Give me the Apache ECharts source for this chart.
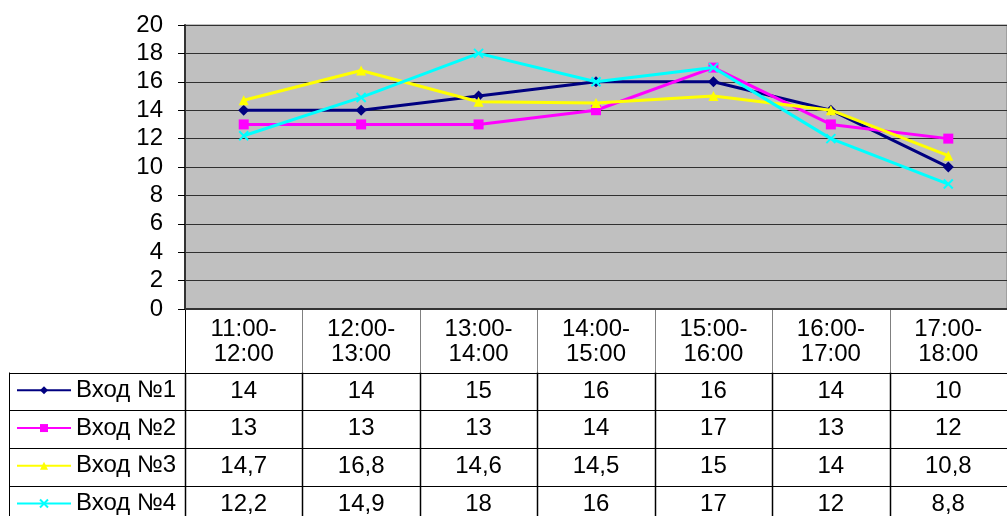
<!DOCTYPE html>
<html>
<head>
<meta charset="utf-8">
<script src="https://cdn.jsdelivr.net/npm/echarts@6/dist/echarts.min.js"></script>
<style>
html, body { margin: 0; padding: 0; background: #fff; }
#chart { width: 1007px; height: 516px; }
</style>
</head>
<body>
<div id="chart"></div>
<script>
const categories = ['11:00-\n12:00', '12:00-\n13:00', '13:00-\n14:00', '14:00-\n15:00', '15:00-\n16:00', '16:00-\n17:00', '17:00-\n18:00'];
const seriesNames = ['Вход №1', 'Вход №2', 'Вход №3', 'Вход №4'];
const entry1 = [14, 14, 15, 16, 16, 14, 10];
const entry2 = [13, 13, 13, 14, 17, 13, 12];
const entry3 = [14.7, 16.8, 14.6, 14.5, 15, 14, 10.8];
const entry4 = [12.2, 14.9, 18, 16, 17, 12, 8.8];
const yTicks = [0, 20, 2]; // min, max, step

const allData = [entry1, entry2, entry3, entry4];
const colors = ['#000080', '#FF00FF', '#FFFF00', '#00FFFF'];
const symbols = ['diamond', 'rect', 'triangle', 'path://M0,0L10,10M10,0L0,10'];

// layout of the plot and the data table under it
const W = 1007, H = 516;
const plotL = 185, plotT = 25, plotB = 310;
const rowTop = 372.5, rowH = 37.7, tableL = 9;
const colW = (W - plotL) / categories.length;
const font = 'Liberation Sans, Arial, sans-serif';
const fs = 24;

const fmtNum = v => String(v).replace('.', ',');

const chart = echarts.init(document.getElementById('chart'));

let graphics = [];
// horizontal table lines
for (let i = 0; i < seriesNames.length; i++) {
    const y = Math.round(rowTop + i * rowH) + 0.5;
    graphics.push({ type: 'line', shape: { x1: tableL, y1: y, x2: W, y2: y }, style: { stroke: '#000', lineWidth: 1 }, silent: true });
}
// left border of legend column
graphics.push({ type: 'line', shape: { x1: tableL + 0.5, y1: rowTop, x2: tableL + 0.5, y2: H }, style: { stroke: '#000', lineWidth: 1 } });
// column separators
for (let k = 0; k < categories.length; k++) {
    const x = Math.round(plotL + k * colW) + 0.5;
    graphics.push({ type: 'line', shape: { x1: x, y1: plotB, x2: x, y2: rowTop }, style: { stroke: k === 0 ? '#000' : '#808080', lineWidth: 1 } });
    graphics.push({ type: 'line', shape: { x1: x, y1: rowTop, x2: x, y2: H }, style: { stroke: '#000', lineWidth: 1.5 } });
}

// one legend per table row so each key sits in its own cell
const legends = seriesNames.map((name, i) => ({
    orient: 'horizontal',
    left: 16,
    top: rowTop + rowH * i + rowH / 2 - 13,
    itemWidth: 54,
    itemHeight: 10,
    padding: 0,
    textStyle: { fontSize: fs, color: '#000', fontFamily: font },
    data: [name]
}));

const option = {
    backgroundColor: '#fff',
    animation: false,
    textStyle: { fontFamily: font },
    grid: {
        left: plotL, right: 0, top: plotT, bottom: H - plotB,
        show: true, backgroundColor: '#C0C0C0', borderColor: '#808080', borderWidth: 1
    },
    legend: legends,
    xAxis: {
        type: 'category',
        data: categories,
        boundaryGap: true,
        axisLine: { lineStyle: { color: '#333', width: 2 } },
        axisTick: { show: false },
        axisLabel: {
            interval: 0,
            margin: 8,
            formatter: function (value, idx) {
                const head = value.split('\n').map(s => '{h|' + s + '}').join('\n');
                const vals = allData.map(d => '{v|' + fmtNum(d[idx]) + '}').join('\n');
                return head + '\n{s| }\n' + vals;
            },
            rich: {
                h: { fontSize: fs, lineHeight: 25, color: '#000', fontFamily: font, align: 'center' },
                s: { fontSize: 4, lineHeight: 5 },
                v: { fontSize: fs, lineHeight: rowH, color: '#000', fontFamily: font, align: 'center' }
            }
        }
    },
    yAxis: {
        type: 'value',
        min: yTicks[0],
        max: yTicks[1],
        interval: yTicks[2],
        axisLine: { show: true, lineStyle: { color: '#333', width: 2 } },
        axisTick: { show: true, length: 7, lineStyle: { color: '#000' } },
        axisLabel: { margin: 22, fontSize: fs, color: '#000', fontFamily: font },
        splitLine: { show: true, lineStyle: { color: '#303030', width: 1 } }
    },
    series: seriesNames.map((name, i) => ({
        name: name,
        type: 'line',
        data: allData[i],
        symbol: symbols[i],
        symbolSize: i === 3 ? 9 : (i === 0 ? 11 : 10),
        showAllSymbol: true,
        lineStyle: { color: colors[i], width: 3 },
        itemStyle: i === 3
            ? { color: colors[i], borderColor: colors[i], borderWidth: 2 }
            : { color: colors[i], borderWidth: 0 },
        z: 2 + i
    })),
    graphic: graphics
};

chart.setOption(option);
</script>
</body>
</html>
